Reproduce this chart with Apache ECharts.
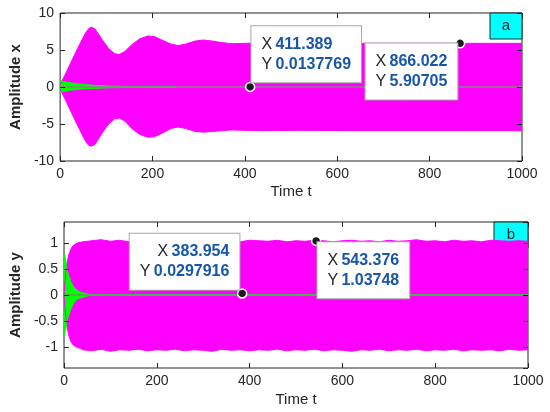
<!DOCTYPE html>
<html>
<head>
<meta charset="utf-8">
<script src="https://cdn.jsdelivr.net/npm/echarts@6/dist/echarts.min.js"></script>
<style>
html,body{margin:0;padding:0;background:#fff;}
#chart{width:550px;height:412px;}
</style>
</head>
<body>
<div id="chart"></div>
<script>
// 包络线 (t, 幅值) —— 从原图读出
var envXUp = [[0,0.3],[15,2.2],[30,4.2],[45,6.1],[55,7.3],[62,7.9],[68,8.1],[76,7.8],[90,6.5],[105,5.2],[118,4.5],[128,4.4],[140,4.8],[155,5.7],[172,6.5],[190,6.9],[205,6.8],[222,6.3],[240,5.8],[255,5.6],[272,5.8],[292,6.2],[310,6.35],[330,6.2],[350,6.0],[372,5.85],[400,5.9],[440,5.95],[520,5.9],[640,5.9],[760,5.9],[880,5.9],[1000,5.9]];
var envXLo = [[0,-0.3],[15,-2.2],[30,-4.2],[45,-6.1],[55,-7.3],[62,-7.9],[68,-8.0],[76,-7.7],[90,-6.3],[105,-5.0],[118,-4.3],[128,-4.2],[140,-4.6],[155,-5.6],[172,-6.4],[190,-6.8],[205,-6.7],[222,-6.2],[240,-5.6],[255,-5.4],[272,-5.6],[292,-6.0],[310,-6.1],[330,-6.0],[350,-5.9],[372,-5.8],[400,-5.85],[440,-5.9],[520,-5.85],[640,-5.9],[760,-5.9],[880,-5.9],[1000,-5.9]];
var greenXUp = [[0,0.85],[10,0.7],[25,0.55],[40,0.42],[60,0.3],[80,0.2],[110,0.12],[150,0.06],[200,0.02],[250,0]];
var greenXLo = [[0,-0.7],[10,-0.57],[25,-0.42],[40,-0.3],[60,-0.22],[80,-0.16],[110,-0.1],[150,-0.05],[200,-0.02],[250,0]];

var tYHead = [0,2,4,6,8,10,13,16,20,25,30,35];
var envYUpHead = [0,0.25,0.45,0.58,0.68,0.76,0.84,0.9,0.95,0.98,1.0,1.01];
var envYLoHead = [0,-0.25,-0.45,-0.58,-0.68,-0.77,-0.85,-0.91,-0.96,-0.99,-1.01,-1.02];
var tYTail = [40,60,80,100,120,140,160,180,200,220,240,260,280,300,320,340,360,380,400,420,440,460,480,500,520,540,560,580,600,620,640,660,680,700,720,740,760,780,800,820,840,860,880,900,920,940,960,980,1000];
var envYUpTail = [1.02,1.04,1.06,1.03,1.05,1.02,1.04,1.05,1.03,1.04,
	1.02,1.05,1.03,1.04,1.06,1.03,1.04,1.02,1.05,1.04,
	1.03,1.05,1.02,1.04,1.03,1.05,1.04,1.02,1.04,1.05,
	1.03,1.04,1.02,1.05,1.03,1.04,1.06,1.03,1.04,1.02,
	1.05,1.03,1.04,1.02,1.05,1.04,1.03,1.04,1.03];
var envYLoTail = [-1.05,-1.07,-1.04,-1.08,-1.05,-1.06,-1.04,-1.07,-1.05,-1.06,
	-1.04,-1.07,-1.05,-1.06,-1.08,-1.04,-1.06,-1.05,-1.07,-1.05,
	-1.06,-1.04,-1.07,-1.05,-1.06,-1.04,-1.07,-1.05,-1.06,-1.08,
	-1.05,-1.06,-1.04,-1.07,-1.05,-1.06,-1.04,-1.07,-1.05,-1.06,
	-1.04,-1.07,-1.05,-1.06,-1.05,-1.07,-1.04,-1.06,-1.05];
var greenYUp = [[0,0.8],[3,0.7],[6,0.52],[10,0.37],[15,0.25],[20,0.17],[25,0.12],[30,0.08],[38,0.05],[50,0.02],[60,0]];
var greenYLo = [[0,-0.78],[3,-0.68],[6,-0.52],[10,-0.39],[15,-0.26],[20,-0.17],[25,-0.11],[30,-0.07],[38,-0.05],[50,-0.02],[60,0]];

var zeroT = [0, 1000];
var zeroV = [0, 0];

var xTicks = [0, 200, 400, 600, 800, 1000];

// data tips
var tipXa = [411.389, 866.022];
var tipYa = [0.0137769, 5.90705];
var tipXb = [383.954, 543.376];
var tipYb = [0.0297916, 1.03748];

function pairs(t, v) {
	var out = [];
	for (var i = 0; i < t.length; i++) out.push([t[i], v[i]]);
	return out;
}

var FONT = '"Liberation Sans", Arial, Helvetica, sans-serif';
var AXC = '#262626';

function band(name, data, color, xi, yi) {
	return {
		name: name,
		type: 'line',
		xAxisIndex: xi,
		yAxisIndex: yi,
		data: data,
		showSymbol: false,
		silent: true,
		animation: false,
		lineStyle: { color: color, width: 1 },
		itemStyle: { color: color },
		areaStyle: { color: color, opacity: 1, origin: 'auto' }
	};
}

function zeroLine(color, width, xi, yi) {
	return {
		type: 'line',
		xAxisIndex: xi,
		yAxisIndex: yi,
		data: pairs(zeroT, zeroV),
		showSymbol: false,
		silent: true,
		animation: false,
		lineStyle: { color: color, width: width }
	};
}

function tip(x, y, pos, align, vAlign) {
	var txt = '{k|X} {v|' + x + '}\n{k|Y} {v|' + y + '}';
	return {
		value: [x, y],
		label: {
			show: true,
			formatter: txt,
			position: pos,
			align: align,
			verticalAlign: vAlign,
			opacity: 1,
			backgroundColor: '#fff',
			borderColor: '#a6a6a6',
			borderWidth: 1,
			padding: [8, 10, 8, 10],
			lineHeight: 20,
			rich: {
				k: { color: AXC, fontSize: 16, fontFamily: FONT, lineHeight: 20 },
				v: { color: '#1756a9', fontSize: 16, fontWeight: 'bold', fontFamily: FONT, lineHeight: 20 }
			}
		}
	};
}

function tipSeries(items, xi, yi) {
	return {
		type: 'scatter',
		xAxisIndex: xi,
		yAxisIndex: yi,
		symbol: 'circle',
		symbolSize: 9,
		animation: false,
		itemStyle: { color: '#1a1a1a', borderColor: '#fff', borderWidth: 1.5, opacity: 1 },
		z: 5,
		data: items
	};
}

function xAx(grid, pos, name, gap) {
	return {
		type: 'value',
		gridIndex: grid,
		position: pos,
		min: 0,
		max: 1000,
		interval: 200,
		z: 10,
		name: name,
		nameLocation: 'middle',
		nameGap: gap,
		nameTextStyle: { color: AXC, fontSize: 15, fontFamily: FONT },
		axisLine: { show: false, onZero: false },
		axisTick: { show: true, inside: true, length: 5, lineStyle: { color: AXC } },
		axisLabel: {
			show: pos == 'bottom', color: AXC, fontSize: 14, fontFamily: FONT, margin: 6,
			formatter: function (v) { return xTicks.indexOf(v) >= 0 ? String(v) : ''; }
		},
		splitLine: { show: false }
	};
}

function yAx(grid, pos, min, max, interval, name, gap) {
	var a = {
		type: 'value',
		gridIndex: grid,
		position: pos,
		min: min,
		max: max,
		z: 10,
		name: name,
		nameLocation: 'middle',
		nameGap: gap,
		nameRotate: 90,
		nameTextStyle: { color: AXC, fontSize: 15, fontWeight: 'bold', fontFamily: FONT },
		axisLine: { show: false, onZero: false },
		axisTick: { show: true, inside: true, length: 5, lineStyle: { color: AXC } },
		axisLabel: {
			show: pos == 'left', color: AXC, fontSize: 14, fontFamily: FONT, margin: 6,
			showMinLabel: false, showMaxLabel: false
		},
		splitLine: { show: false }
	};
	if (interval) {
		a.interval = interval;
		a.axisLabel.showMinLabel = true;
		a.axisLabel.showMaxLabel = true;
	}
	return a;
}

function corner(letter, x, y, w, h) {
	return {
		type: 'group',
		z: 20,
		children: [{
			type: 'rect',
			shape: { x: x, y: y, width: w, height: h },
			style: { fill: '#00ffff', stroke: AXC, lineWidth: 1 }
		}, {
			type: 'text',
			x: x + w / 2,
			y: y + h / 2,
			style: { text: letter, fill: AXC, font: '15px ' + FONT, align: 'center', verticalAlign: 'middle' }
		}]
	};
}

var myChart = echarts.init(document.getElementById('chart'));
var option = {
	backgroundColor: '#fff',
	animation: false,
	grid: [
		{ left: 57, top: 13, width: 465, height: 148, show: true, borderColor: AXC, borderWidth: 1, backgroundColor: '#fff' },
		{ left: 57, top: 222, width: 471, height: 146, show: true, borderColor: AXC, borderWidth: 1, backgroundColor: '#fff' }
	],
	xAxis: [
		xAx(0, 'bottom', 'Time t', 23),
		xAx(0, 'top', '', 0),
		xAx(1, 'bottom', 'Time t', 24),
		xAx(1, 'top', '', 0)
	],
	yAxis: [
		yAx(0, 'left', -10, 10, 5, 'Amplitude x', 31),
		yAx(0, 'right', -10, 10, 5, '', 0),
		yAx(1, 'left', -1.4, 1.4, null, 'Amplitude y', 35),
		yAx(1, 'right', -1.4, 1.4, null, '', 0)
	],
	series: [
		band('x+', envXUp, '#ff00ff', 0, 0),
		band('x-', envXLo, '#ff00ff', 0, 0),
		band('gx+', greenXUp, '#00ff00', 0, 0),
		band('gx-', greenXLo, '#00ff00', 0, 0),
		zeroLine('#858585', 1.5, 0, 0),
		tipSeries([
			tip(tipXa[0], tipYa[0], [6.5, 0.5], 'left', 'bottom'),
			tip(tipXa[1], tipYa[1], [2.5, 5.5], 'right', 'top')
		], 0, 0),

		band('y+', pairs(tYHead, envYUpHead).concat(pairs(tYTail, envYUpTail)), '#ff00ff', 2, 2),
		band('y-', pairs(tYHead, envYLoHead).concat(pairs(tYTail, envYLoTail)), '#ff00ff', 2, 2),
		band('gy+', greenYUp, '#00ff00', 2, 2),
		band('gy-', greenYLo, '#00ff00', 2, 2),
		zeroLine('#4caf50', 2, 2, 2),
		tipSeries([
			tip(tipXb[0], tipYb[0], [2.5, 1.5], 'right', 'bottom'),
			tip(tipXb[1], tipYb[1], [6.5, 6.5], 'left', 'top')
		], 2, 2)
	],
	graphic: [
		corner('a', 490, 13, 32, 26),
		corner('b', 494, 222, 34, 26)
	]
};
myChart.setOption(option);
</script>
</body>
</html>
